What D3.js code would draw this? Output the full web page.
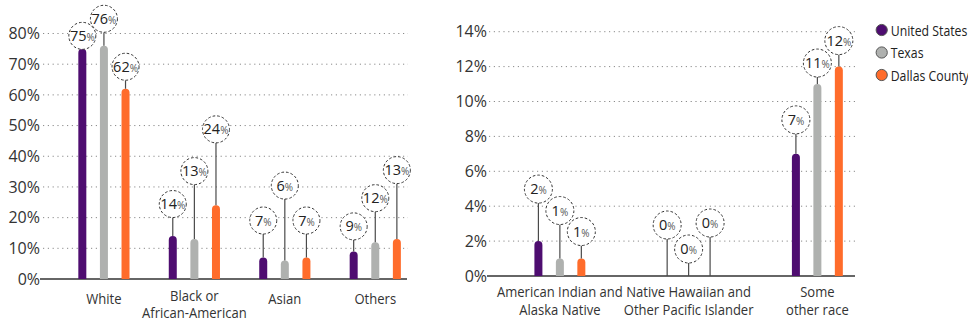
<!DOCTYPE html>
<html>
<head>
<meta charset="utf-8">
<script src="https://cdn.jsdelivr.net/npm/d3@7"></script>
<style>
  html, body { margin: 0; padding: 0; background: #fff; }
  svg { display: block; font-family: "Open Sans", "Noto Sans", sans-serif; }
</style>
</head>
<body>
<svg id="chart" width="968" height="324"></svg>
<script>
// Population share by race: United States, Texas, Dallas County
const series = ["United States", "Texas", "Dallas County"];
const seriesColors = ["#4e0d70", "#afb1af", "#ff6c2b"];

// Major groups (left panel)
const majorCategories = ["White", "Black or African-American", "Asian", "Others"];
const majorLines = [["White"], ["Black or", "African-American"], ["Asian"], ["Others"]];
const majorValues = [
  [75, 76, 62],
  [14, 13, 24],
  [7, 6, 7],
  [9, 12, 13]
];
const majorTicks = [0, 10, 20, 30, 40, 50, 60, 70, 80];

// Smaller groups (right panel)
const minorCategories = ["American Indian and Alaska Native", "Native Hawaiian and Other Pacific Islander", "Some other race"];
const minorLines = [["American Indian and", "Alaska Native"], ["Native Hawaiian and", "Other Pacific Islander"], ["Some", "other race"]];
const minorValues = [
  [2, 1, 1],
  [0, 0, 0],
  [7, 11, 12]
];
const minorTicks = [0, 2, 4, 6, 8, 10, 12, 14];

// How far (px) each callout bubble sits above the top of its bar
const majorCalloutRise = [
  [13, 27, 22],
  [32, 68, 76],
  [37, 75, 37],
  [25, 44, 69]
];
const minorCalloutRise = [
  [52, 48, 27],
  [51, 27, 53],
  [34, 21, 26]
];

const svg = d3.select("#chart");
const narrow = 0.87; // horizontal squeeze for the condensed label face

function drawPanel(cfg) {
  const g = svg.append("g");
  const y = d3.scaleLinear().domain(cfg.domain).range(cfg.yRange);
  const x = d3.scaleBand().domain(cfg.categories).range(cfg.xBandRange);
  const inner = d3.scaleBand().domain(series).range([-cfg.innerHalf, cfg.innerHalf]);
  const cx = (c, s) => x(c) + x.bandwidth() / 2 + inner(s) + inner.bandwidth() / 2;
  const barW = 8;

  // dotted gridlines
  g.append("g")
    .selectAll("line")
    .data(cfg.ticks.filter(t => t !== 0))
    .join("line")
    .attr("x1", cfg.gridX[0]).attr("x2", cfg.gridX[1])
    .attr("y1", d => y(d)).attr("y2", d => y(d))
    .attr("stroke", "#8a8a8a")
    .attr("stroke-width", 1)
    .attr("stroke-dasharray", "1.2,3.6");

  // tick labels via a left axis without domain/ticks
  const axis = d3.axisLeft(y).tickValues(cfg.ticks).tickFormat(d => d + "%").tickSize(0).tickPadding(0);
  const ax = g.append("g").attr("transform", `translate(${cfg.labelX},0)`).call(axis);
  ax.select(".domain").remove();
  ax.selectAll("text")
    .attr("font-family", "'Open Sans', sans-serif")
    .attr("font-size", 16)
    .attr("fill", "#333");

  // baseline
  g.append("line")
    .attr("x1", cfg.baseX[0]).attr("x2", cfg.baseX[1])
    .attr("y1", y(0)).attr("y2", y(0))
    .attr("stroke", "#333")
    .attr("stroke-width", 1.5);

  const flat = [];
  cfg.categories.forEach((c, i) => {
    series.forEach((s, j) => {
      flat.push({ c, s, j, v: cfg.values[i][j], rise: cfg.rise[i][j] });
    });
  });

  // bars with rounded tops
  const barPath = d => {
    const x0 = cx(d.c, d.s) - barW / 2;
    const top = y(d.v), bot = y(0), r = barW / 2;
    if (bot - top < r) return "";
    return `M${x0},${bot}V${top + r}A${r},${r} 0 0 1 ${x0 + barW},${top + r}V${bot}Z`;
  };
  g.append("g")
    .selectAll("path")
    .data(flat)
    .join("path")
    .attr("d", barPath)
    .attr("fill", d => seriesColors[d.j]);

  // callouts: leader line + dashed bubble
  const R = cfg.bubbleR;
  const co = g.append("g").selectAll("g").data(flat).join("g")
    .attr("transform", d => `translate(${cx(d.c, d.s)},${y(d.v) - d.rise})`);
  co.filter(d => d.rise > R)
    .append("line")
    .attr("x1", 0).attr("x2", 0)
    .attr("y1", R).attr("y2", d => d.rise)
    .attr("stroke", "#4a4a4a")
    .attr("stroke-width", 1.2);
  co.append("circle")
    .attr("r", R)
    .attr("fill", "#fff")
    .attr("stroke", "#333")
    .attr("stroke-width", 1)
    .attr("stroke-dasharray", "2.6,2");
  const t = co.append("text")
    .attr("text-anchor", "middle")
    .attr("y", 5)
    .attr("fill", "#222");
  t.append("tspan").attr("font-size", 14.5).text(d => d.v);
  t.append("tspan").attr("font-size", 10).attr("fill", "#555").text("%");

  // category labels
  cfg.categories.forEach((c, i) => {
    const lines = cfg.lines[i];
    const base = y(0) + (lines.length === 1 ? cfg.singleDy : cfg.multiDy);
    const txt = g.append("text")
      .attr("transform", `translate(${x(c) + x.bandwidth() / 2},${base}) scale(${narrow},1)`)
      .attr("text-anchor", "middle")
      .attr("font-size", 15)
      .attr("fill", "#333");
    lines.forEach((l, k) => {
      txt.append("tspan")
        .attr("x", 0)
        .attr("y", k * 18)
        .text(l);
    });
  });
}

drawPanel({
  categories: majorCategories,
  lines: majorLines,
  values: majorValues,
  rise: majorCalloutRise,
  ticks: majorTicks,
  domain: [0, 80],
  yRange: [279, 33.5],
  xBandRange: [58.7, 420.5],
  innerHalf: 32.4,
  gridX: [43, 408],
  baseX: [40, 407],
  labelX: 40,
  bubbleR: 13.5,
  singleDy: 25,
  multiDy: 21.5
});

drawPanel({
  categories: minorCategories,
  lines: minorLines,
  values: minorValues,
  rise: minorCalloutRise,
  ticks: minorTicks,
  domain: [0, 14],
  yRange: [276, 31.7],
  xBandRange: [495.5, 881.75],
  innerHalf: 32.2,
  gridX: [489, 855],
  baseX: [487, 855],
  labelX: 487,
  bubbleR: 14,
  singleDy: 25,
  multiDy: 21
});

// legend
const legend = svg.append("g").attr("transform", "translate(881.7,30)");
const li = legend.selectAll("g").data(series).join("g")
  .attr("transform", (d, i) => `translate(0,${i * 22.5})`);
li.append("circle")
  .attr("r", 5.6)
  .attr("fill", (d, i) => seriesColors[i])
  .attr("stroke", "#555")
  .attr("stroke-width", 1);
li.append("text")
  .attr("transform", "translate(9,5.5) scale(0.82,1)")
  .attr("font-size", 15)
  .attr("fill", "#222")
  .text(d => d);
</script>
</body>
</html>
